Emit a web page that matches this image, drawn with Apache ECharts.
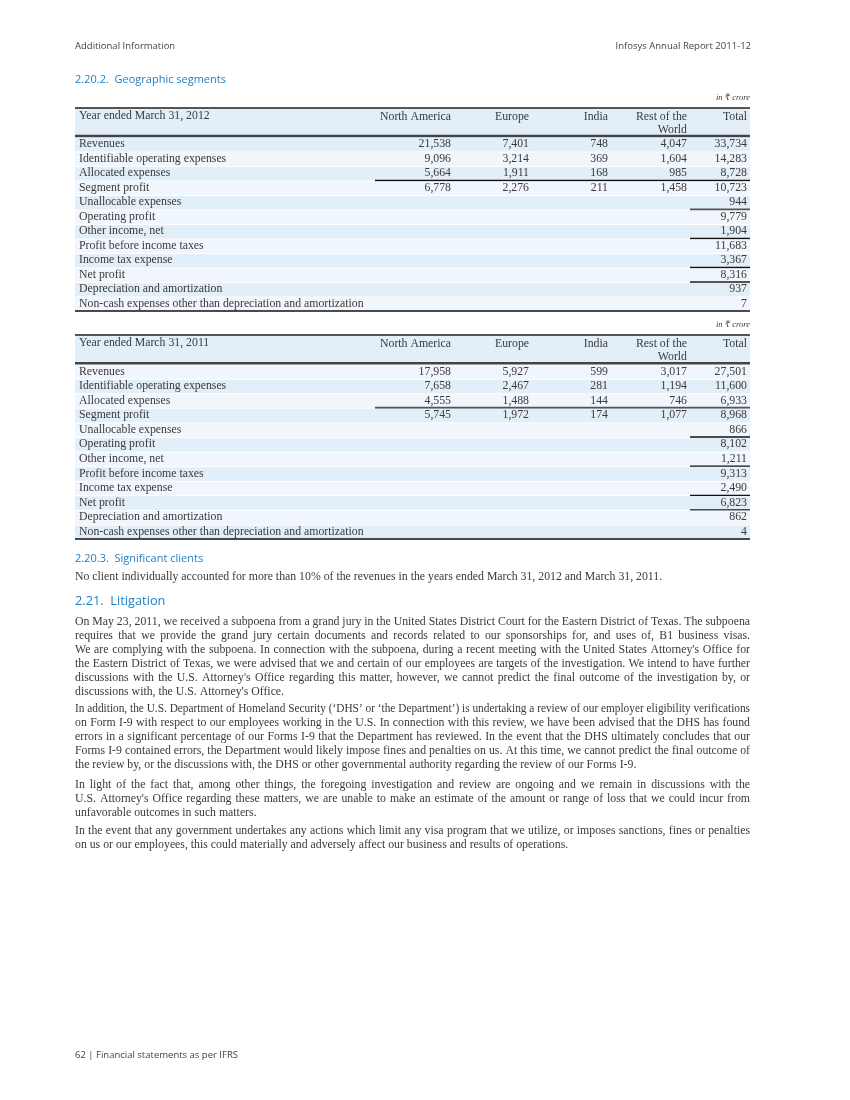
<!DOCTYPE html>
<html><head><meta charset="utf-8">
<script src="https://cdn.jsdelivr.net/npm/echarts@6/dist/echarts.min.js"></script>
<style>html,body{margin:0;padding:0;background:#fff}#c{width:850px;height:1100px}</style>
</head><body><div id="c"></div>
<script>
// ---------------- DATA ----------------
const columns = ['North America', 'Europe', 'India', 'Rest of the\nWorld', 'Total'];
const rowLabels = [
  'Revenues', 'Identifiable operating expenses', 'Allocated expenses', 'Segment profit',
  'Unallocable expenses', 'Operating profit', 'Other income, net', 'Profit before income taxes',
  'Income tax expense', 'Net profit', 'Depreciation and amortization',
  'Non-cash expenses other than depreciation and amortization'
];
const northAmerica2012 = [21538, 9096, 5664, 6778];
const europe2012 = [7401, 3214, 1911, 2276];
const india2012 = [748, 369, 168, 211];
const restOfWorld2012 = [4047, 1604, 985, 1458];
const total2012 = [33734, 14283, 8728, 10723, 944, 9779, 1904, 11683, 3367, 8316, 937, 7];

const northAmerica2011 = [17958, 7658, 4555, 5745];
const europe2011 = [5927, 2467, 1488, 1972];
const india2011 = [599, 281, 144, 174];
const restOfWorld2011 = [3017, 1194, 746, 1077];
const total2011 = [27501, 11600, 6933, 8968, 866, 8102, 1211, 9313, 2490, 6823, 862, 4];

const pageHeaderLeft = 'Additional Information';
const pageHeaderRight = 'Infosys Annual Report 2011-12';
const sectionTitle1 = '2.20.2.  Geographic segments';
const unitLabel = 'in \u20B9 crore';
const year2012Label = 'Year ended March 31, 2012';
const year2011Label = 'Year ended March 31, 2011';
const sectionTitle2 = '2.20.3.  Significant clients';
const clientsText = 'No client individually accounted for more than 10% of the revenues in the years ended March 31, 2012 and March 31, 2011.';
const sectionTitle3 = '2.21.  Litigation';
const paragraph1 = [
  'On May 23, 2011, we received a subpoena from a grand jury in the United States District Court for the Eastern District of Texas. The subpoena',
  'requires that we provide the grand jury certain documents and records related to our sponsorships for, and uses of, B1 business visas.',
  "We are complying with the subpoena. In connection with the subpoena, during a recent meeting with the United States Attorney's Office for",
  'the Eastern District of Texas, we were advised that we and certain of our employees are targets of the investigation. We intend to have further',
  "discussions with the U.S. Attorney's Office regarding this matter, however, we cannot predict the final outcome of the investigation by, or",
  "discussions with, the U.S. Attorney's Office."
];
const paragraph2 = [
  "In addition, the U.S. Department of Homeland Security (\u2018DHS\u2019 or \u2018the Department\u2019) is undertaking a review of our employer eligibility verifications",
  'on Form I-9 with respect to our employees working in the U.S. In connection with this review, we have been advised that the DHS has found',
  'errors in a significant percentage of our Forms I-9 that the Department has reviewed. In the event that the DHS ultimately concludes that our',
  'Forms I-9 contained errors, the Department would likely impose fines and penalties on us. At this time, we cannot predict the final outcome of',
  'the review by, or the discussions with, the DHS or other governmental authority regarding the review of our Forms I-9.'
];
const paragraph3 = [
  'In light of the fact that, among other things, the foregoing investigation and review are ongoing and we remain in discussions with the',
  "U.S. Attorney's Office regarding these matters, we are unable to make an estimate of the amount or range of loss that we could incur from",
  'unfavorable outcomes in such matters.'
];
const paragraph4 = [
  'In the event that any government undertakes any actions which limit any visa program that we utilize, or imposes sanctions, fines or penalties',
  'on us or our employees, this could materially and adversely affect our business and results of operations.'
];
const footerText = '62 | Financial statements as per IFRS';

// ---------------- LAYOUT / STYLE ----------------
const PAGE_L = 75, PAGE_W = 675;
const SERIF = '"Liberation Serif", "DejaVu Serif", "Noto Sans", serif';
const SANS = '"Open Sans", "Noto Sans", sans-serif';
const TEXT = '#3a3a3a';
const BLUE = '#1f7fc4';
const HEADER_UNITS = 2, BODY_ROWS = 12;
const colRight = [376, 454, 533, 612, 672];   // right edges of numeric columns (x-axis units)
const wideRuleFrom = 300, totalRuleFrom = 615;

const ctx = document.createElement('canvas').getContext('2d');
function measure(t, font) { ctx.font = font; return ctx.measureText(t).width; }
let serifSize = 11;
serifSize = Math.max(9, Math.min(13, serifSize * 588 / measure(clientsText, serifSize + 'px ' + SERIF)));
const serifFont = serifSize + 'px ' + SERIF;

const fmt = v => (v === null || v === undefined) ? '' : v.toLocaleString('en-US');

// ---------------- TABLES ----------------
function tableSeries(gridIndex, yearLabel, cols, darkEven, rules) {
  const header = {
    type: 'custom', xAxisIndex: gridIndex, yAxisIndex: gridIndex, silent: true, clip: false,
    data: [[0, 0]],
    renderItem: function (params, api) {
      const a = api.coord([0, 0]), b = api.coord([PAGE_W, HEADER_UNITS]);
      const ch = [
        { type: 'rect', shape: { x: a[0], y: a[1], width: b[0] - a[0], height: b[1] - a[1] }, style: { fill: '#e2eef8' } },
        { type: 'line', shape: { x1: a[0], y1: a[1], x2: b[0], y2: a[1] }, style: { stroke: '#555', lineWidth: 2 } },
        { type: 'line', shape: { x1: a[0], y1: b[1] - 1, x2: b[0], y2: b[1] - 1 }, style: { stroke: '#444', lineWidth: 2.5 } },
        { type: 'text', x: a[0] + 4, y: a[1] + 2, style: { text: yearLabel, font: serifFont, fill: TEXT, textAlign: 'left', textVerticalAlign: 'top' } }
      ];
      columns.forEach((c, k) => {
        const p = api.coord([colRight[k], 0]);
        ch.push({ type: 'text', x: p[0], y: a[1] + 2, style: { text: c, font: serifFont, fill: TEXT, textAlign: 'right', textVerticalAlign: 'top', lineHeight: 13 } });
      });
      return { type: 'group', children: ch };
    }
  };
  const body = {
    type: 'custom', xAxisIndex: gridIndex, yAxisIndex: gridIndex, silent: true, clip: false,
    data: rowLabels.map((l, i) => [i].concat(cols.map(arr => arr[i] === undefined ? null : arr[i]))),
    renderItem: function (params, api) {
      const i = params.dataIndex;
      const a = api.coord([0, HEADER_UNITS + i]), b = api.coord([PAGE_W, HEADER_UNITS + i + 1]);
      const mid = (a[1] + b[1]) / 2;
      const dark = (i % 2 === 0) === darkEven;
      const ch = [
        { type: 'rect', shape: { x: a[0], y: a[1] + 1, width: b[0] - a[0], height: b[1] - a[1] - 1 }, style: { fill: dark ? '#e2eef8' : '#f0f6fb' } },
        { type: 'text', x: a[0] + 4, y: mid, style: { text: rowLabels[i], font: serifFont, fill: TEXT, textAlign: 'left', textVerticalAlign: 'middle' } }
      ];
      cols.forEach((arr, k) => {
        const v = arr[i];
        if (v === undefined || v === null) return;
        const p = api.coord([colRight[k], HEADER_UNITS + i + 0.5]);
        ch.push({ type: 'text', x: p[0], y: p[1], style: { text: fmt(v), font: serifFont, fill: TEXT, textAlign: 'right', textVerticalAlign: 'middle' } });
      });
      const r = rules[i];
      if (r) {
        const from = api.coord([r.wide ? wideRuleFrom : totalRuleFrom, 0])[0];
        ch.push({ type: 'line', shape: { x1: from, y1: b[1], x2: b[0], y2: b[1] }, style: { stroke: r.c, lineWidth: r.w } });
      }
      if (i === BODY_ROWS - 1) {
        ch.push({ type: 'line', shape: { x1: a[0], y1: b[1], x2: b[0], y2: b[1] }, style: { stroke: '#111', lineWidth: 1.5 } });
      }
      return { type: 'group', children: ch };
    }
  };
  return [header, body];
}

const rules2012 = { 2: { wide: true, c: '#111', w: 1.5 }, 4: { c: '#555', w: 2 }, 6: { c: '#111', w: 1.3 }, 8: { c: '#111', w: 1.3 }, 9: { c: '#555', w: 2 } };
const rules2011 = { 2: { wide: true, c: '#555', w: 2 }, 4: { c: '#111', w: 1.3 }, 6: { c: '#111', w: 1.3 }, 8: { c: '#111', w: 1.3 }, 9: { c: '#111', w: 1.3 } };

// ---------------- TEXT BLOCKS ----------------
const elements = [];
function addText(x, y, text, font, fill, align, scaleX) {
  elements.push({ type: 'text', x: x, y: y, scaleX: scaleX || 1, silent: true, style: { text: text, font: font, fill: fill, textAlign: align || 'left', textVerticalAlign: 'middle' } });
}
function addParagraph(lines, y0, pitch) {
  lines.forEach((line, li) => {
    const y = y0 + li * pitch;
    if (li === lines.length - 1) { addText(PAGE_L, y, line, serifFont, TEXT); return; }
    const words = line.split(' ');
    const ws = words.map(w => measure(w, serifFont));
    const sum = ws.reduce((s, w) => s + w, 0);
    const gap = (PAGE_W - sum) / (words.length - 1);
    if (gap < 2) {
      const nat = measure(line, serifFont);
      addText(PAGE_L, y, line, serifFont, TEXT, 'left', PAGE_W / nat);
      return;
    }
    let x = PAGE_L;
    words.forEach((w, k) => { addText(x, y, w, serifFont, TEXT); x += ws[k] + gap; });
  });
}
addText(PAGE_L, 46, pageHeaderLeft, '9.5px ' + SANS, '#444');
addText(751, 46, pageHeaderRight, '9.5px ' + SANS, '#444', 'right');
addText(PAGE_L, 80, sectionTitle1, '11px ' + SANS, BLUE);
addText(750, 98, unitLabel, 'italic 8.5px ' + SERIF, TEXT, 'right');
addText(750, 325, unitLabel, 'italic 8.5px ' + SERIF, TEXT, 'right');
addText(PAGE_L, 559, sectionTitle2, '11px ' + SANS, BLUE);
addText(PAGE_L, 577, clientsText, serifFont, TEXT);
addText(PAGE_L, 601, sectionTitle3, '12.8px ' + SANS, BLUE);
addParagraph(paragraph1, 621.5, 14);
addParagraph(paragraph2, 709, 14.1);
addParagraph(paragraph3, 785, 14.2);
addParagraph(paragraph4, 830.5, 14.2);
addText(PAGE_L, 1055, footerText, '9.5px ' + SANS, '#444');

// ---------------- CHART ----------------
const chart = echarts.init(document.getElementById('c'), null, { renderer: 'canvas' });
const grids = [
  { left: PAGE_L, top: 108, width: PAGE_W, height: 203 },
  { left: PAGE_L, top: 335, width: PAGE_W, height: 204 }
];
chart.setOption({
  animation: false,
  backgroundColor: '#fff',
  grid: grids,
  xAxis: grids.map((g, k) => ({ type: 'value', gridIndex: k, min: 0, max: PAGE_W, show: false })),
  yAxis: grids.map((g, k) => ({ type: 'value', gridIndex: k, min: 0, max: HEADER_UNITS + BODY_ROWS, inverse: true, show: false })),
  series: [].concat(
    tableSeries(0, year2012Label, [northAmerica2012, europe2012, india2012, restOfWorld2012, total2012], true, rules2012),
    tableSeries(1, year2011Label, [northAmerica2011, europe2011, india2011, restOfWorld2011, total2011], false, rules2011)
  ),
  graphic: { elements: elements }
});
</script></body></html>
